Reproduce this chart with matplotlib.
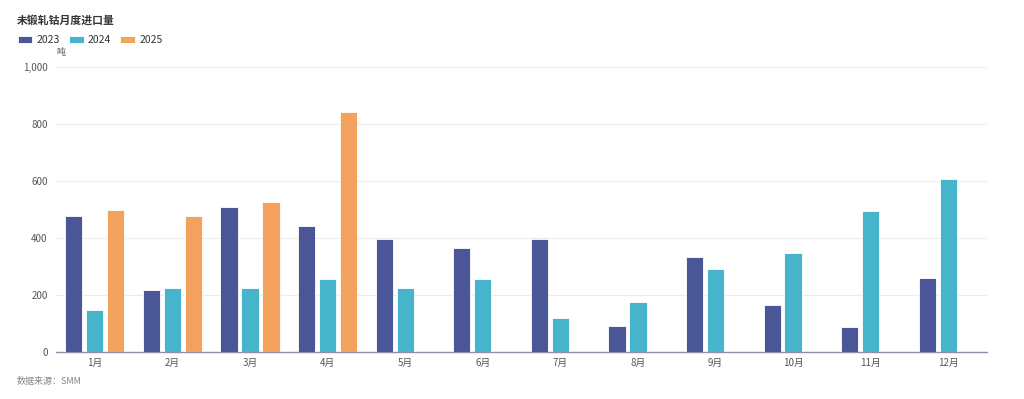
import numpy as np
import matplotlib
matplotlib.use('agg')
import matplotlib.pyplot as plt

plt.rcParams['font.family'] = ['Noto Sans CJK SC', 'DejaVu Sans']

# Monthly import volume (tonnes)
months = ['1月', '2月', '3月', '4月', '5月', '6月', '7月', '8月', '9月', '10月', '11月', '12月']
y2023 = [476, 218, 508, 442, 398, 366, 395, 91, 334, 165, 88, 260]
y2024 = [146, 226, 223, 256, 226, 257, 120, 177, 293, 346, 495, 607]
y2025 = [500, 476, 525, 842, np.nan, np.nan, np.nan, np.nan, np.nan, np.nan, np.nan, np.nan]

series = [('2023', y2023, '#4b5697'), ('2024', y2024, '#46b4cb'), ('2025', y2025, '#f2a25c')]

fig = plt.figure(figsize=(10.24, 3.99), dpi=100, facecolor='w')
ax = fig.add_axes([0.0547, 0.1178, 0.9092, 0.7142])

x = np.arange(len(months))
w = 0.222
step = 0.27
handles = []
for i, (name, vals, col) in enumerate(series):
    b = ax.bar(x + (i - 1) * step, vals, width=w, color=col, edgecolor='white',
               linewidth=0.6, label=name, zorder=3)
    handles.append(b)

ax.set_xlim(-0.5, len(months) - 0.5)
ax.set_ylim(0, 1000)
ax.set_yticks([0, 200, 400, 600, 800, 1000])
ax.set_yticklabels(['0', '200', '400', '600', '800', '1,000'])
ax.set_xticks(x)
ax.set_xticklabels(months)
ax.tick_params(axis='both', length=0, labelsize=7, colors='#555555')
ax.tick_params(axis='x', pad=4)
ax.tick_params(axis='y', pad=6)
ax.grid(axis='y', color='#ececec', linewidth=0.8, zorder=0)
for s in ['top', 'right', 'left']:
    ax.spines[s].set_visible(False)
ax.spines['bottom'].set_color('#8c90a8')
ax.spines['bottom'].set_linewidth(1.0)

fig.text(0.0166, 0.95, '未锻轧钴月度进口量', fontsize=7.8, color='#333333',
         ha='left', va='center', fontweight='bold')
ax.text(0.0, 1.035, '吨', transform=ax.transAxes, fontsize=6.5, color='#555555',
        ha='left', va='bottom')
fig.legend(handles=handles, loc='upper left', bbox_to_anchor=(0.008, 0.935),
           ncol=3, frameon=False, fontsize=7.5, handlelength=1.4, handleheight=0.55,
           handletextpad=0.4, columnspacing=0.9, labelcolor='#333333')
fig.text(0.0166, 0.045, '数据来源：SMM', fontsize=6.5, color='#888888',
         ha='left', va='center', style='italic')

plt.savefig('out.png', dpi=100)
